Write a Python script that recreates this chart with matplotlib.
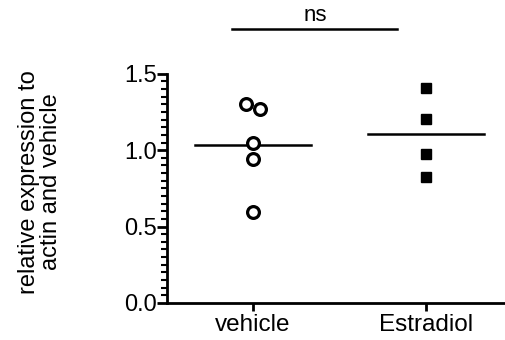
import matplotlib
matplotlib.use("Agg")
import matplotlib.pyplot as plt
import numpy as np
from matplotlib.ticker import MultipleLocator

plt.rcParams['font.family'] = ['Liberation Sans', 'DejaVu Sans']

categories = ["vehicle", "Estradiol"]
vehicle_vals = [1.303, 1.27, 1.048, 0.943, 0.596]
vehicle_x_offsets = [-0.04, 0.04, 0.0, 0.0, 0.0]
estradiol_vals = [1.408, 1.205, 0.976, 0.825]
ylabel = "relative expression to\nactin and vehicle"
sig_text = "ns"

fig = plt.figure(figsize=(5.06, 3.40), dpi=100)
ax = fig.add_axes([0.330, 0.109, 0.668, 0.674])

xv = np.array(vehicle_x_offsets) + 0
ax.plot(xv, vehicle_vals, linestyle='none', marker='o', markersize=8.5,
        markerfacecolor='white', markeredgecolor='black', markeredgewidth=2.3, clip_on=False, zorder=3)
ax.plot(np.ones(len(estradiol_vals)), estradiol_vals, linestyle='none', marker='s', markersize=7.5,
        color='black', clip_on=False, zorder=3)

for i, vals in enumerate([vehicle_vals, estradiol_vals]):
    m = np.mean(vals)
    ax.plot([i - 0.335, i + 0.335], [m, m], color='black', lw=1.8, zorder=2)

ax.set_xlim(-0.497, 1.457)
ax.set_ylim(0, 1.5)
ax.set_xticks([0, 1])
ax.set_xticklabels(categories, fontsize=17.5)
ax.set_yticks([0.0, 0.5, 1.0, 1.5])
ax.set_yticklabels(["0.0", "0.5", "1.0", "1.5"], fontsize=17)
ax.yaxis.set_minor_locator(MultipleLocator(0.05))
ax.tick_params(axis='y', which='major', direction='out', length=7, width=2, pad=0)
ax.tick_params(axis='y', which='minor', direction='out', length=4, width=1.5)
ax.tick_params(axis='x', which='major', direction='out', length=6, width=2, pad=2)
for s in ['top', 'right']:
    ax.spines[s].set_visible(False)
for s in ['left', 'bottom']:
    ax.spines[s].set_linewidth(2)

fig.text(0.079, 0.465, ylabel, rotation=90, ha='center', va='center', fontsize=17,
         multialignment='center', linespacing=1.0)

ax.plot([-0.12, 0.83], [1.794, 1.794], color='black', lw=1.8, clip_on=False)
ax.text(0.36, 1.81, sig_text, ha='center', va='bottom', fontsize=16)

fig.savefig("out.png", dpi=100)
